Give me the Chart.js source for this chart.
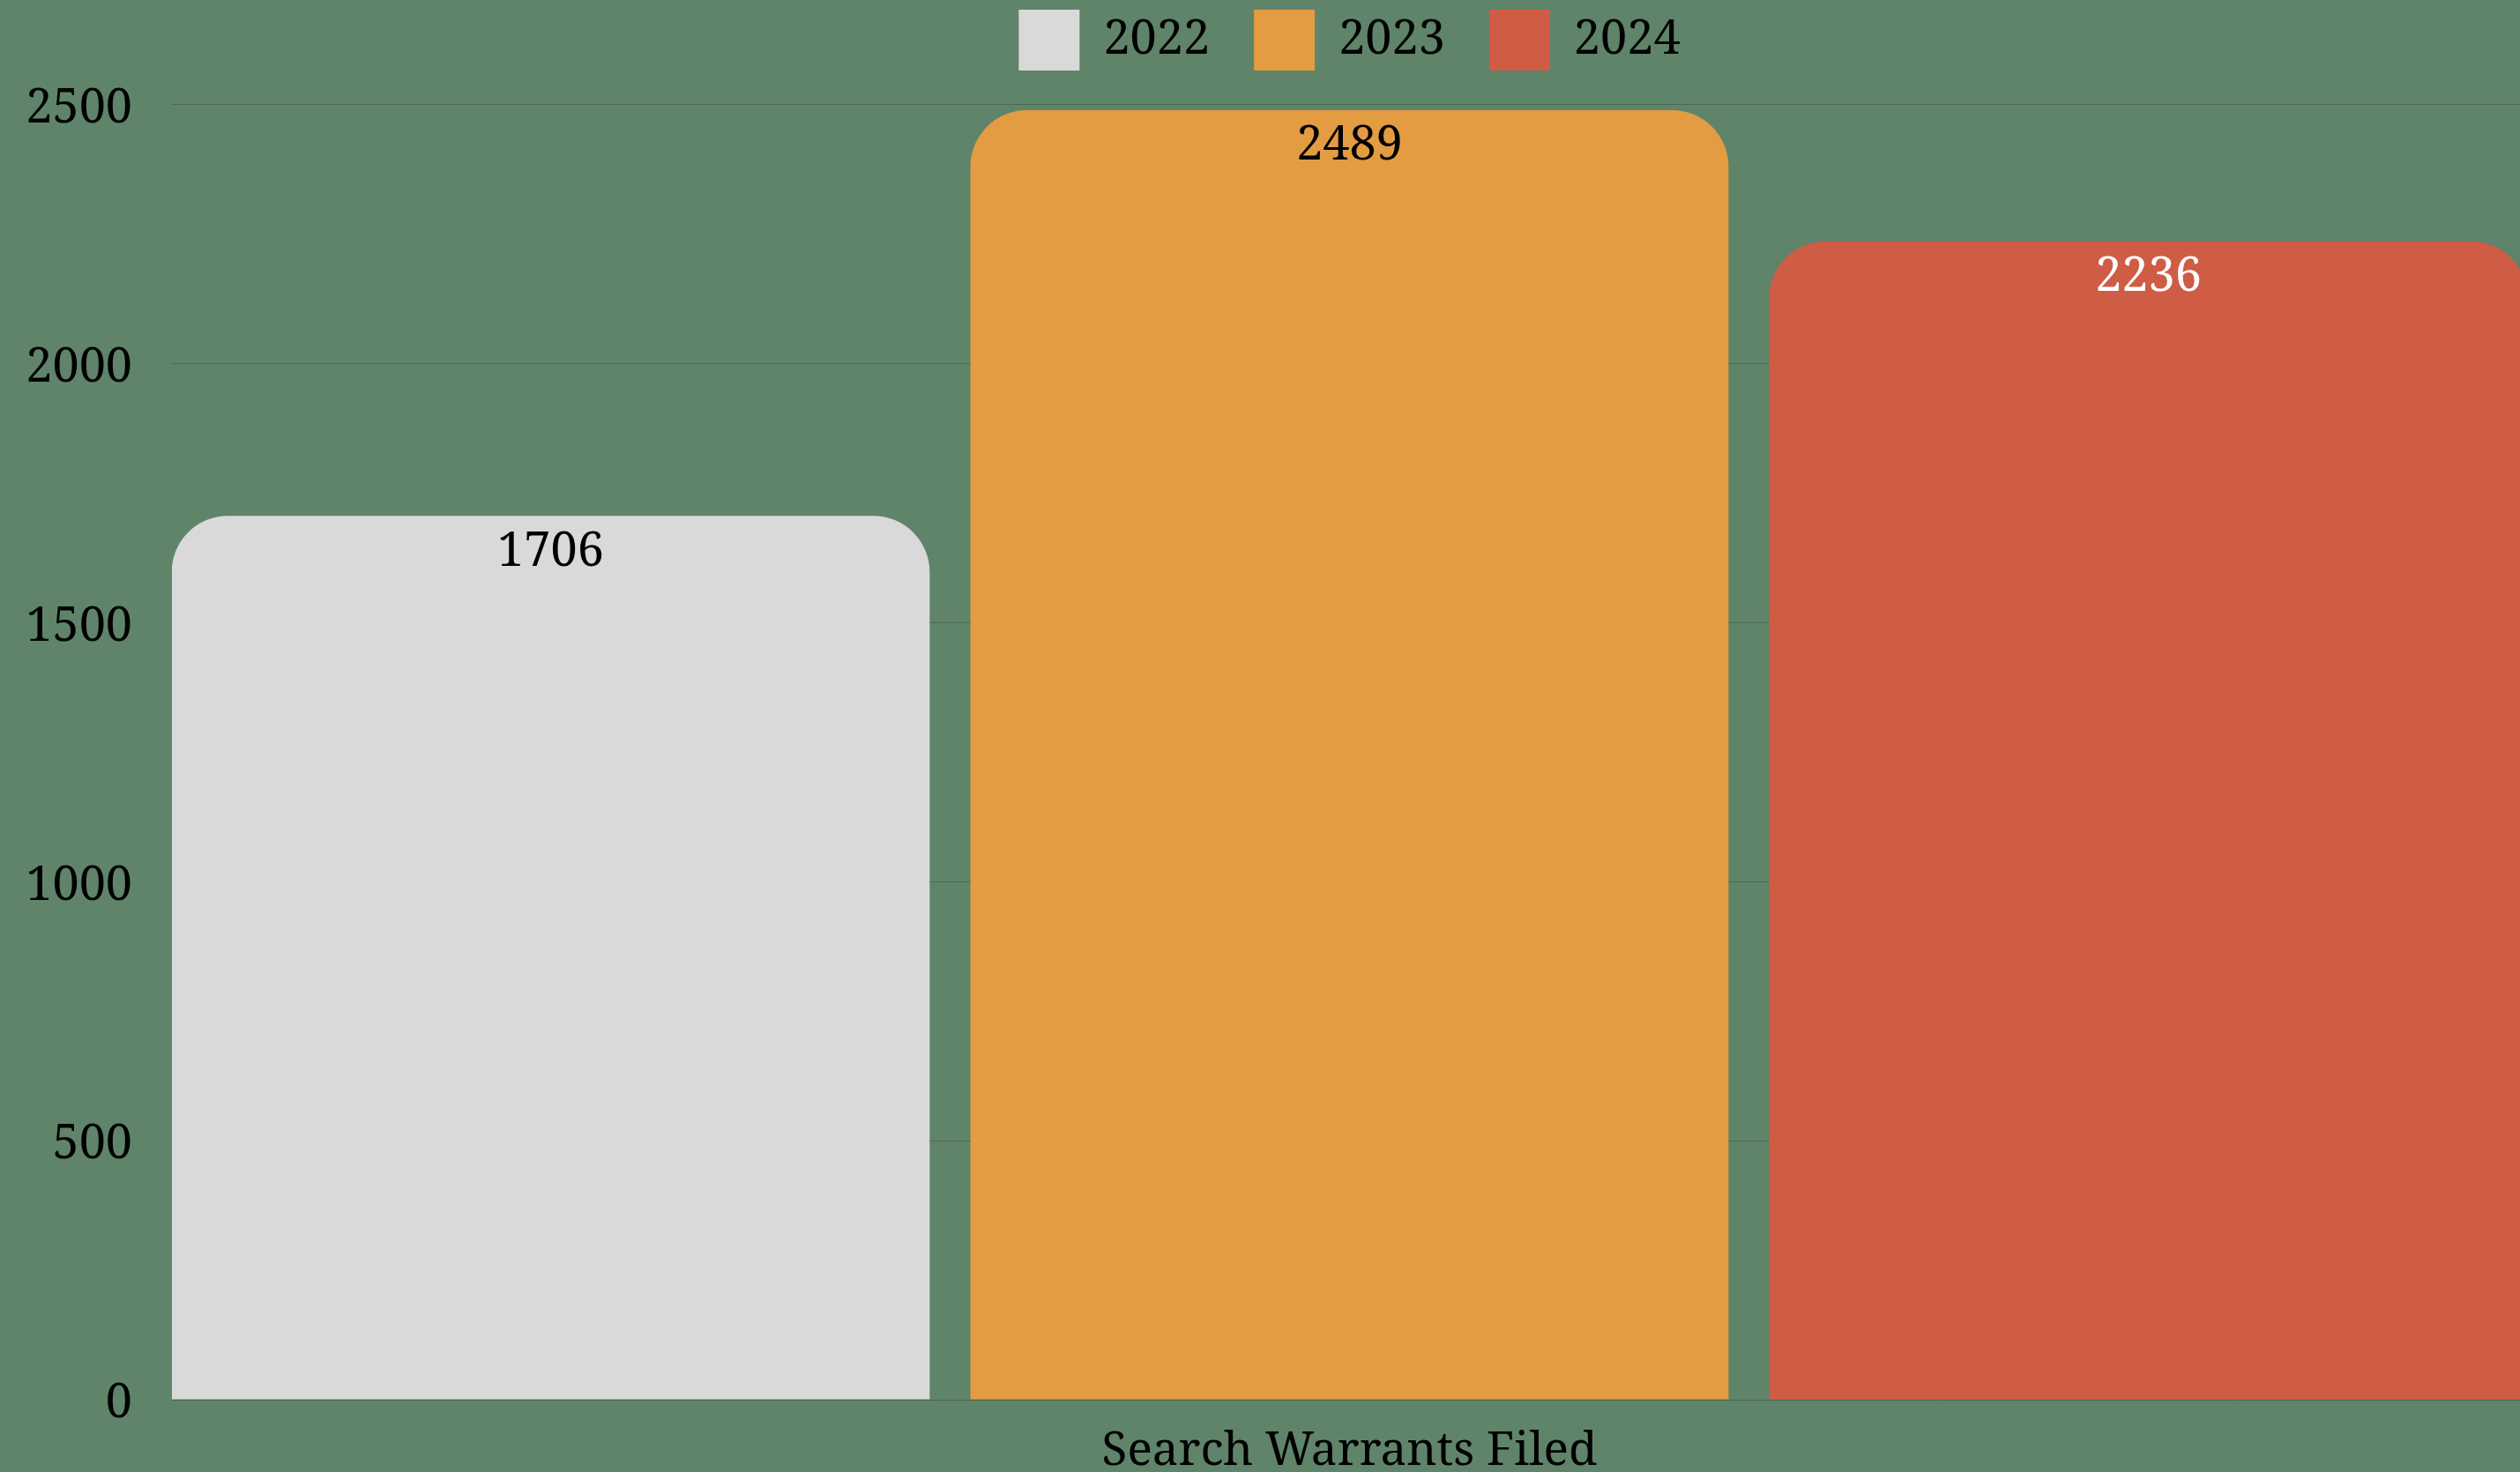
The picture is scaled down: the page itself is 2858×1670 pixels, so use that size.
<!DOCTYPE html>
<html>
<head>
<meta charset="utf-8">
<style>
  html, body { margin: 0; padding: 0; overflow: hidden; background: #5f846a; }
  #wrap { position: absolute; left: 0; top: 0; width: 2866px; height: 1670px; }
  canvas { display: block; }
</style>
<script src="https://cdn.jsdelivr.net/npm/chart.js"></script>
</head>
<body>
<div id="wrap"><canvas id="c" width="2866" height="1670"></canvas></div>
<script>
const categories = ['Search Warrants Filed'];
const seriesNames = ['2022', '2023', '2024'];
const values2022 = [1706];
const values2023 = [2489];
const values2024 = [2236];
const yTicks = [0, 500, 1000, 1500, 2000, 2500];

const barColors = ['#d9d9d9', '#e39c42', '#cf5c45'];
const labelColors = ['#000000', '#000000', '#ffffff'];
const FONT_FAMILY = "'Noto Serif', serif";
const FS = 54;

const valueLabels = {
  id: 'valueLabels',
  afterDatasetsDraw(chart) {
    const ctx = chart.ctx;
    chart.data.datasets.forEach((ds, i) => {
      const meta = chart.getDatasetMeta(i);
      if (meta.hidden) return;
      meta.data.forEach((bar, j) => {
        ctx.save();
        ctx.font = FS + 'px ' + FONT_FAMILY;
        ctx.fillStyle = labelColors[i];
        ctx.textAlign = 'center';
        ctx.textBaseline = 'middle';
        ctx.fillText(String(ds.data[j]), bar.x, bar.y + 41);
        ctx.restore();
      });
    });
  }
};

// empty layout box that adds space between the legend and the plot area
const spacer = {
  id: 'spacer',
  beforeInit(chart) {
    const box = {
      position: 'top', weight: 500, fullSize: false,
      options: {},
      left: 0, top: 0, right: 0, bottom: 0, width: 0, height: 0,
      isHorizontal() { return true; },
      update(maxWidth) { this.width = maxWidth; this.height = 28.5; },
      draw() {}
    };
    Chart.layouts.addBox(chart, box);
  }
};

function make() {
  Chart.defaults.font.family = FONT_FAMILY;
  Chart.defaults.font.size = FS;
  Chart.defaults.color = '#000000';
  const datasets = [values2022, values2023, values2024].map((vals, i) => ({
    label: seriesNames[i],
    data: vals,
    backgroundColor: barColors[i],
    borderWidth: 0,
    borderRadius: 64,
    borderSkipped: 'start',
    categoryPercentage: 1.0176,
    barPercentage: 0.949
  }));
  new Chart(document.getElementById('c'), {
    type: 'bar',
    data: { labels: categories, datasets },
    plugins: [valueLabels, spacer],
    options: {
      responsive: false,
      animation: false,
      devicePixelRatio: 1,
      layout: { padding: { top: -39, left: 0, right: 0, bottom: 0 } },
      plugins: {
        tooltip: { enabled: false },
        title: { display: false },
        legend: {
          position: 'top',
          fullSize: false,
          labels: { boxWidth: 69, boxHeight: 69, padding: 50, color: '#000000',
                    font: { size: FS, family: FONT_FAMILY } }
        }
      },
      scales: {
        x: {
          grid: { display: false, drawTicks: false },
          border: { display: false },
          ticks: { padding: 27, color: '#000000', font: { size: 53, family: FONT_FAMILY } },
          afterFit(scale) { scale.height = 82; }
        },
        y: {
          min: 0, max: 2500,
          afterBuildTicks(scale) { scale.ticks = yTicks.map(v => ({ value: v })); },
          grid: { color: '#4a6a52', lineWidth: 1, drawTicks: false },
          border: { display: false },
          ticks: {
            padding: 45, labelOffset: 5, color: '#000000',
            font: { size: FS, family: FONT_FAMILY },
            callback: (v) => String(v)
          },
          afterFit(scale) { scale.width = 195; }
        }
      }
    }
  });
}

if (document.fonts && document.fonts.load) {
  document.fonts.load(FS + "px 'Noto Serif'").then(make, make);
} else {
  make();
}
</script>
</body>
</html>
